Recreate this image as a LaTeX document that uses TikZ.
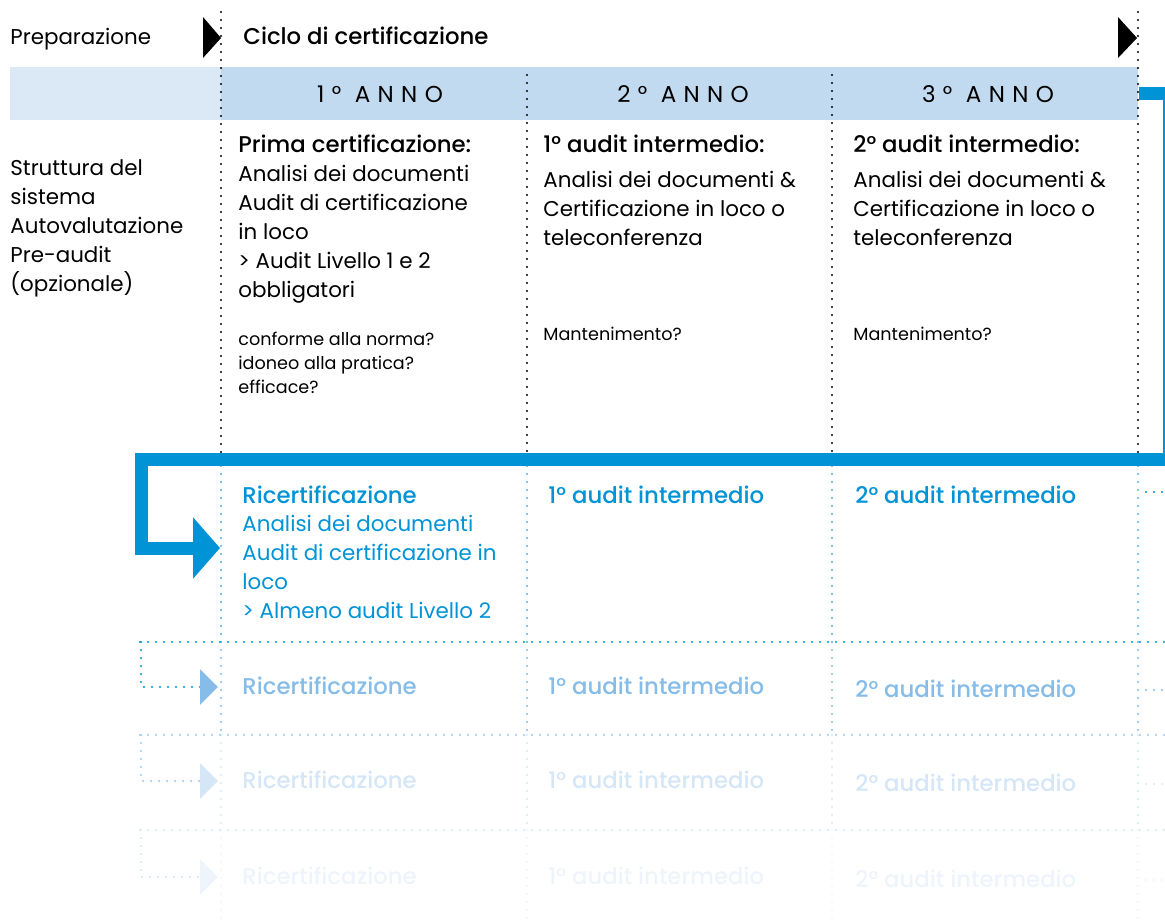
\documentclass[tikz,border=0pt]{standalone}
\usepackage{fontspec}
\setmainfont{Poppins}[BoldFont={Poppins Medium}]
\newfontfamily\annofont[LetterSpace=32]{Poppins}
\usetikzlibrary{arrows.meta}

\definecolor{ciano}{HTML}{0093D5}
\definecolor{ciano2}{HTML}{86BCE8}
\definecolor{ciano3}{HTML}{D5E6F7}
\definecolor{ciano4}{HTML}{EEF4FC}
\definecolor{bandprep}{HTML}{DBE9F7}
\definecolor{bandanno}{HTML}{C1DAF0}

\tikzset{
  punti/.style={dash pattern=on 0pt off 4pt, line cap=round, line width=1.2pt},
  testo/.style={anchor=base west, inner sep=0pt, align=left, font=\fontsize{10.7}{14.5}\selectfont},
  piccolo/.style={testo, font=\fontsize{8.8}{12}\selectfont},
  titolo/.style={testo, font=\fontsize{11.4}{14.5}\selectfont\bfseries},
  anno/.style={inner sep=0pt, font=\fontsize{11.5}{12}\selectfont\annofont},
}

\begin{document}
\begin{tikzpicture}[x=0.5pt,y=-0.5pt]
    \useasboundingbox (0,0) rectangle (1165,920);
    % fascia degli anni
    \fill[bandprep] (10,67) rectangle (221,120);
    \node[fill=bandanno, inner sep=0pt, minimum width=458.5pt, minimum height=26.5pt, anchor=north west] (banda) at (221,67) {};
    \node[anno] (anno1) at (380,94) {1° ANNO};
    \node[anno] (anno2) at (683,94) {2° ANNO};
    \node[anno] (anno3) at (988,94) {3° ANNO};
    % linee di colonna
    \draw[punti] (221,12) -- (221,455);
    \draw[punti] (1138,12) -- (1138,455);
    \foreach \x in {527,832} \draw[punti] (\x,75) -- (\x,455);
    \foreach \x in {221,527,832,1138} {
        \draw[punti, ciano!70] (\x,466) -- (\x,642);
        \draw[punti, ciano2] (\x,642) -- (\x,735);
        \draw[punti, ciano3] (\x,735) -- (\x,830);
        \draw[punti, ciano4] (\x,830) -- (\x,920);
    }
    \fill (203,17) -- (221,38) -- (203,58) -- cycle;
    \fill (1118,17) -- (1137,38) -- (1118,58) -- cycle;

    % testi: ancorati alla linea di base dell'ultima riga
    \node[testo] (prep) at (10,45) {Preparazione};
    \node[titolo] (ciclo) at (243,45) {Ciclo di certificazione};
    \node[testo] (struttura) at (10,291) {Struttura del\\sistema\\Autovalutazione\\Pre-audit\\(opzionale)};

    % primo ciclo
    \node[titolo] (prima) at (238,152) {Prima certificazione:};
    \node[testo] (prima-testo) at (238,297) {Analisi dei documenti\\Audit di certificazione\\in loco\\> Audit Livello 1 e 2\\obbligatori};
    \node[piccolo] (prima-domande) at (238,393) {conforme alla norma?\\idoneo alla pratica?\\efficace?};
    \node[titolo] (audit1) at (543,152) {1° audit intermedio:};
    \node[testo] (audit1-testo) at (543,245) {Analisi dei documenti \&\\Certificazione in loco o\\teleconferenza};
    \node[piccolo] (audit1-mant) at (543,340) {Mantenimento?};
    \node[titolo] (audit2) at (853,152) {2° audit intermedio:};
    \node[testo] (audit2-testo) at (853,245) {Analisi dei documenti \&\\Certificazione in loco o\\teleconferenza};
    \node[piccolo] (audit2-mant) at (853,340) {Mantenimento?};

    % ricertificazione
    \coordinate (ingresso) at (220,548);
    \draw[ciano, line width=6.5pt, -{Triangle[length=13.5pt,width=30pt]}]
        (banda.east) -| (1169,459) -| (141,548) -- (ingresso);
    \node[titolo, ciano] (ricert) at (242,503) {Ricertificazione};
    \node[testo, ciano] (ricert-testo) at (242,618) {Analisi dei documenti\\Audit di certificazione in\\loco\\> Almeno audit Livello 2};
    \node[titolo, ciano] (r-audit1) at (548,503) {1° audit intermedio};
    \node[titolo, ciano] (r-audit2) at (855,503) {2° audit intermedio};
    \draw[punti, ciano] (1146,492) -- (1165,492);

    % cicli successivi
    \draw[punti, ciano] (140,642) -- (1165,642);
    \draw[punti, ciano2!80] (140,735) -- (1165,735);
    \draw[punti, ciano3] (140,830) -- (1165,830);
    \foreach \i/\ya/\yb/\linea/\col in {3/642/687/ciano/ciano2, 4/735/781/ciano2!80/ciano3, 5/830/877/ciano3/ciano4} {
        \coordinate (ing\i) at (218,\yb);
        \draw[punti, \linea, -{Triangle[length=9pt,width=17.5pt,color=\col]}] (141,\ya) |- (ing\i);
        \node[titolo, \col] (ricert\i) at (242,\yb+7) {Ricertificazione};
        \node[titolo, \col] (audit1-\i) at (548,\yb+7) {1° audit intermedio};
        \node[titolo, \col] (audit2-\i) at (855,\yb+10) {2° audit intermedio};
        \draw[punti, \col] (1146,\yb+3) -- (1165,\yb+3);
    }
\end{tikzpicture}
\end{document}
